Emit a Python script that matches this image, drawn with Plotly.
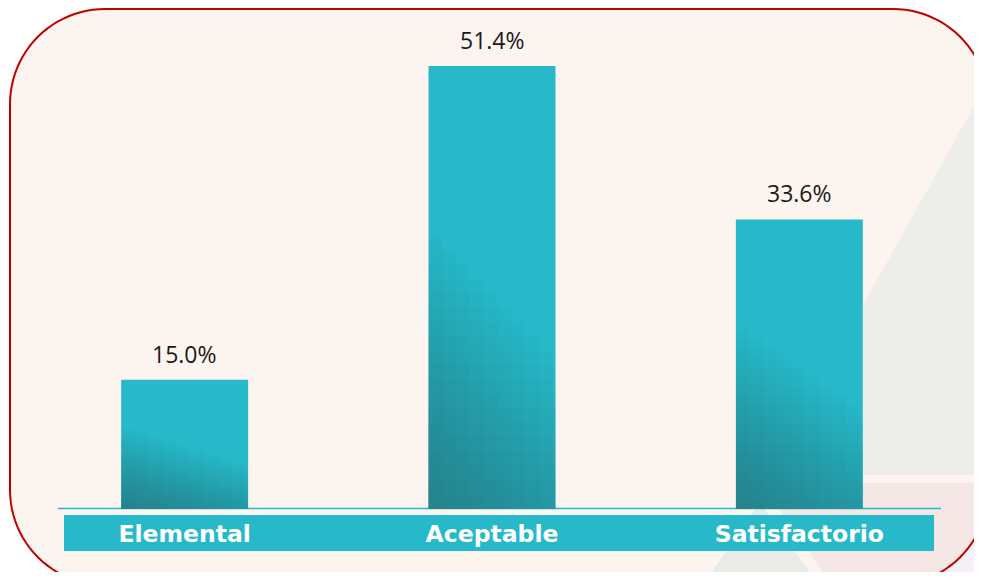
import math
import plotly.graph_objects as go

# data
categories = ["Elemental", "Aceptable", "Satisfactorio"]
values = [15.0, 51.4, 33.6]
value_labels = ["15.0%", "51.4%", "33.6%"]

# page body has an 8px margin, so the figure is drawn smaller
OFF = 8
W, H = 982 - OFF, 580 - 2 * OFF
L, R, T, B = 23, 29, 27, 63

TEAL = "#27B9CA"
CREAM = "#FCF4EF"
BAR_W = 0.413


# window pixel -> paper helpers for the decoration shapes
def X(x):
    return (x - OFF - L) / (W - L - R)


def Y(y):
    return (H - B - (y - OFF)) / (H - T - B)


def path(points, close=True):
    s = "M " + " L ".join("%.5f,%.5f" % (X(x), Y(y)) for x, y in points)
    return s + (" Z" if close else "")


def arc(cx, cy, r, a0, a1, n=24):
    pts = []
    for i in range(n + 1):
        a = math.radians(a0 + (a1 - a0) * i / n)
        pts.append((cx + r * math.cos(a), cy + r * math.sin(a)))
    return pts


# rounded frame
x0, y0, x1, y1, rad = 10, 9, 988, 585, 95
frame = (arc(x0 + rad, y0 + rad, rad, 180, 270)
         + arc(x1 - rad, y0 + rad, rad, 270, 360)
         + arc(x1 - rad, y1 - rad, rad, 0, 90)
         + arc(x0 + rad, y1 - rad, rad, 90, 180))

# bottom-right corner outside the frame
cx, cy = x1 - rad, y1 - rad
a_start = math.degrees(math.acos((982 - cx) / rad))
a_end = math.degrees(math.asin((580 - cy) / rad))
corner = arc(cx, cy, rad, a_start, a_end) + [(982, 580)]

P = dict(xref="paper", yref="paper", layer="below")
shapes = [
    dict(type="path", path=path(frame), fillcolor=CREAM, line_width=0, **P),
    dict(type="path", path=path([(982, 92), (982, 475), (768, 475)]),
         fillcolor="#EDEDEA", line_width=0, **P),
    dict(type="path", path=path([(762, 483), (982, 483), (982, 580), (828, 580)]),
         fillcolor="#F4E7E6", line_width=0, **P),
    dict(type="path", path=path([(760, 503), (815, 580), (706, 580)]),
         fillcolor="#E8EBE6", line_width=0, **P),
    dict(type="path", path=path(corner), fillcolor="#F5F0F7", line_width=0, **P),
    dict(type="path", path=path(frame), fillcolor="rgba(0,0,0,0)",
         line=dict(color="#C00000", width=2), **P),
    # label band and baseline
    dict(type="rect", x0=X(64), x1=X(934), y0=Y(551), y1=Y(515),
         fillcolor=TEAL, line_width=0, **P),
    dict(type="line", x0=X(58), x1=X(941), y0=Y(508.5), y1=Y(508.5),
         line=dict(color=TEAL, width=1.5), **P),
]

fig = go.Figure()
fig.add_trace(go.Bar(
    x=categories, y=values, width=BAR_W, offset=-BAR_W / 2,
    marker=dict(color=TEAL, line_width=0),
    hoverinfo="skip",
))

# diagonal darkening toward the bottom-left of each bar: faint
# overlapping layers, each wider but shorter than the previous one
M = 20
for j in range(1, M):
    frac_w = min(1.0, 2.17 * j / M)
    frac_h = 0.65 * (1 - j / M)
    fig.add_trace(go.Bar(
        x=categories, y=[v * frac_h for v in values],
        width=BAR_W * frac_w, offset=-BAR_W / 2,
        marker=dict(color="rgba(25,75,85,0.028)", line_width=0),
        hoverinfo="skip",
    ))

annotations = []
for c, v, t in zip(categories, values, value_labels):
    annotations.append(dict(
        x=c, y=v, text=t, showarrow=False, yanchor="bottom", yshift=8,
        font=dict(family="Open Sans", size=23, color="#1a1a1a"),
    ))

fig.update_layout(
    width=W, height=H,
    margin=dict(l=L, r=R, t=T, b=B),
    paper_bgcolor="white",
    plot_bgcolor="rgba(0,0,0,0)",
    barmode="overlay",
    showlegend=False,
    shapes=shapes,
    annotations=annotations,
    xaxis=dict(
        showgrid=False, zeroline=False, showline=False, ticks="",
        tickfont=dict(family="DejaVu Sans", size=23.5, color="white", weight="bold"),
        ticklabelstandoff=8,
    ),
    yaxis=dict(range=[0, 55], visible=False),
)

fig.write_html("out.html")
